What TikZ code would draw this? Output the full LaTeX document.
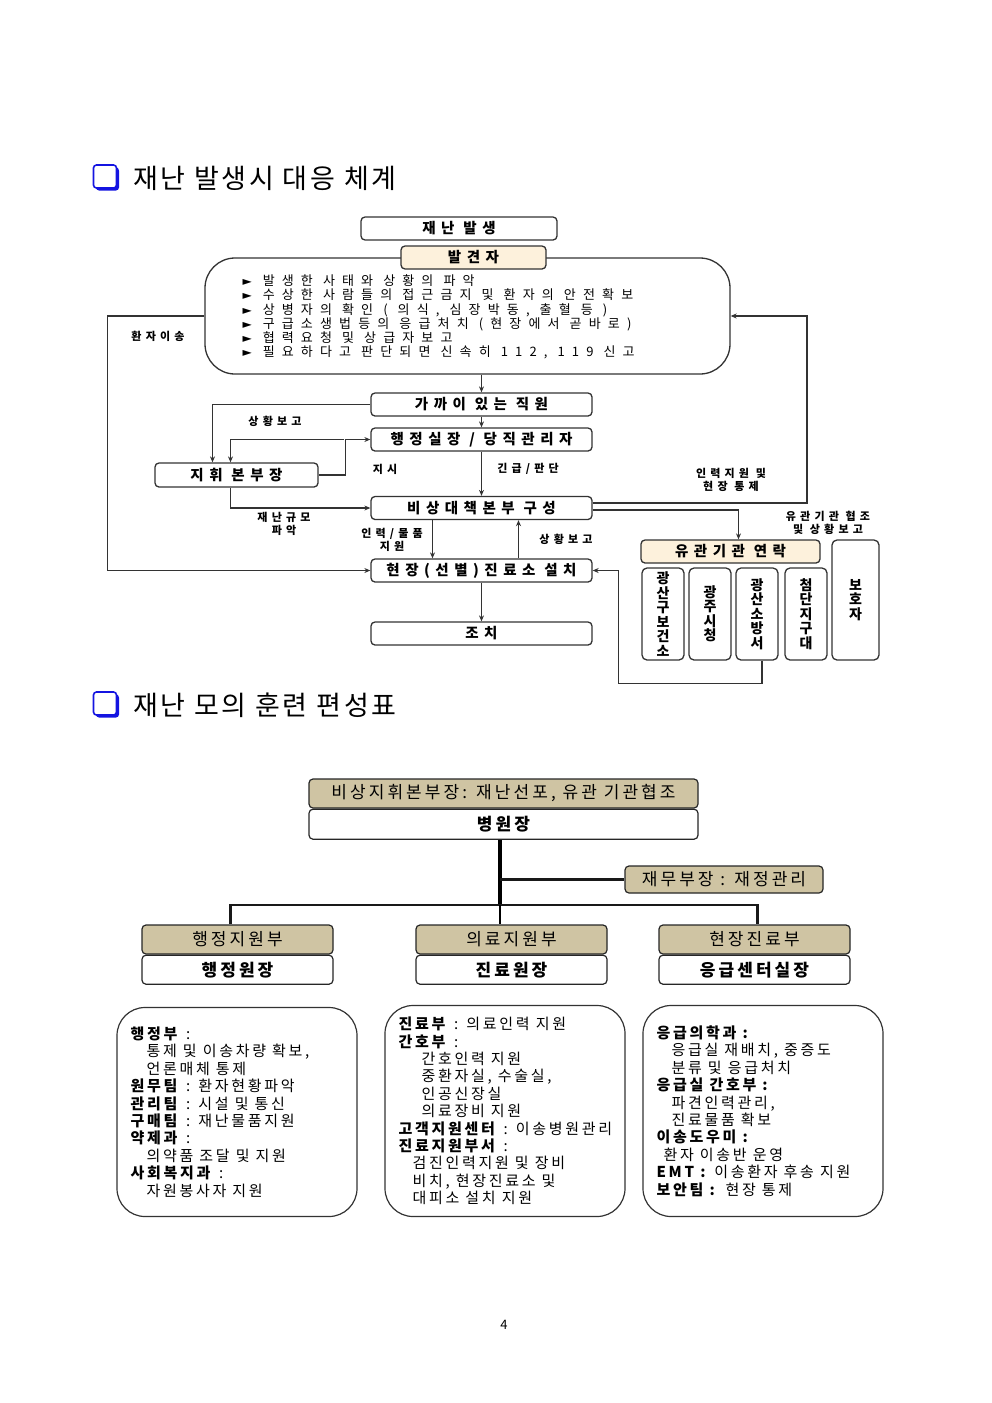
\documentclass[tikz,border=0pt]{standalone}
\usepackage{fontspec}
\setmainfont{Noto Sans CJK KR}
\newfontfamily\flowfont[LetterSpace=38]{Noto Sans CJK KR}
\newfontfamily\dutyfont[LetterSpace=55]{Noto Sans CJK KR}
\newfontfamily\orgfont[LetterSpace=18]{Noto Sans CJK KR}
\newfontfamily\listfont[LetterSpace=18]{Noto Sans CJK KR}
\newfontfamily\titlefont[LetterSpace=10]{Noto Sans CJK KR}
\newfontfamily\tipfont{DejaVu Sans}
\usepackage{tikz}
\usetikzlibrary{
  arrows.meta,
  positioning,
  shadows
}
\usepackage{xcolor}
\definecolor{cream}{RGB}{253,241,220}
\definecolor{khaki}{RGB}{207,196,163}
\definecolor{chkblue}{RGB}{20,20,225}
\newcommand{\bul}{{\tipfont\fontsize{12}{12}\selectfont ►}\hspace{11pt}}

\begin{document}
\begin{tikzpicture}[
  x=1pt, y=-1pt,
  fbox/.style={draw=black!80, line width=1.3pt, rounded corners=4pt, fill=#1, minimum width=221pt, minimum height=23pt, inner sep=0pt, font=\flowfont\bfseries\fontsize{14.5}{16}\selectfont},
  fbox/.default=white,
  vbox/.style={draw=black!80, line width=1.3pt, rounded corners=5pt, fill=white, minimum width=42pt, minimum height=92pt, inner sep=0pt, align=center, font=\flowfont\bfseries\fontsize{14}{14.5}\selectfont},
  flow/.style={-{Stealth[length=6pt, width=5pt]}, line width=1.2pt, draw=black!80},
  lbl/.style={font=\flowfont\bfseries\fontsize{11}{12.5}\selectfont, align=center, inner sep=1pt},
  obox/.style={draw=black!85, line width=1.2pt, rounded corners=4pt, fill=#1, inner sep=0pt, font=\orgfont\fontsize{17}{19}\selectfont},
  obox/.default=white,
  orgline/.style={line width=2.4pt, draw=black!90},
  listbox/.style={draw=black!80, line width=1.2pt, rounded corners=28pt, minimum width=240pt, minimum height=209pt},
  listtext/.style={anchor=west, align=left, inner sep=0pt, font=\listfont\fontsize{15}{17.4}\selectfont},
  chk/.style={draw=chkblue, line width=1.6pt, fill=white, rounded corners=3pt, minimum size=23pt, inner sep=0pt, drop shadow={shadow xshift=2.5pt, shadow yshift=-2.5pt, fill=chkblue, opacity=1}},
  title/.style={anchor=west, inner sep=0pt, font=\titlefont\fontsize{27}{30}\selectfont}
]
  \useasboundingbox (0,0) rectangle (992,1403);

  % Section 1: response system
  \node[chk] (chk1) at (105,176.5) {};
  \node[title] (title1) at (133,178) {재난 발생시 대응 체계};

  \node[fbox, minimum width=196pt] (disaster) at (459,228.5) {재난 발생};
  \node[draw=black!80, line width=1.3pt, rounded corners=30pt, minimum width=525pt, minimum height=116pt] (finderbox) at (467.5,316) {};
  \node[fbox=cream, minimum width=145pt] (finder) at (473.5,257.5) {발견자};
  \node[anchor=west, align=left, inner sep=0pt, font=\dutyfont\fontsize{13}{14.2}\selectfont] (duties) at ([xshift=38pt, yshift=-1pt]finderbox.west) {%
    \bul 발생한 사태와 상황의 파악\\
    \bul 수상한 사람들의 접근금지 및 환자의 안전확보\\
    \bul 상병자의 확인 ( 의식, 심장박동, 출혈 등 )\\
    \bul 구급소생법등의 응급처치 (현장에서 곧바로)\\
    \bul 협력요청 및 상급자보고\\
    \bul 필요하다고 판단되면 신속히 112, 119 신고};

  \node[fbox] (staff) at (481.5,404.5) {가까이 있는 직원};
  \node[fbox] (duty) at (481.5,439.5) {행정실장 / 당직관리자};
  \node[fbox, minimum width=163pt, minimum height=24pt] (chief) at (236.5,475) {지휘 본부장};
  \node[fbox] (hq) at (481.5,508) {비상대책본부 구성};
  \node[fbox] (site) at (481.5,570.5) {현장(선별)진료소 설치};
  \node[fbox] (action) at (481.5,633.5) {조치};

  % Related agencies
  \node[fbox=cream, minimum width=179pt] (liaison) at (730.5,551.5) {유관기관 연락};
  \node[vbox] (health) at (663,614) {광\\산\\구\\보\\건\\소};
  \node[vbox] (city) at (710,614) {광\\주\\시\\청};
  \node[vbox] (fire) at (757,614) {광\\산\\소\\방\\서};
  \node[vbox] (police) at (806,614) {첨\\단\\지\\구\\대};
  \node[vbox, minimum width=47pt, minimum height=120pt] (guardian) at (855.5,600) {보\\호\\자};

  % Arrows
  \draw[flow] (finderbox.south -| staff.north) -- (staff.north);
  \draw[flow] (staff) -- (duty);
  \draw[flow] (duty) -- (hq);
  \draw[flow] (site) -- (action);
  \draw[flow] (staff.west) -| ([xshift=-24pt]chief.north);
  \draw[flow] (chief.east) -- ++(27,0) |- (duty.west);
  \draw[flow] ([xshift=-26pt]duty.west) -| ([xshift=-6pt]chief.north);
  \draw[flow] ([xshift=-6pt]chief.south) |- (hq.west);
  \draw[flow] ([xshift=-49pt]hq.south) -- ([xshift=-49pt]site.north);
  \draw[flow] ([xshift=37pt]site.north) -- ([xshift=37pt]hq.south);
  \draw[flow] (finderbox.west) -- ++(-97,0) |- (site.west);
  \coordinate (rturn) at (807,316);
  \draw[flow] ([yshift=5pt]hq.east) -| (rturn) -- (finderbox.east);
  \draw[flow] ([yshift=-2pt]hq.east) -| ([xshift=8pt]liaison.north);
  \draw[flow] ([xshift=5pt]fire.south) -- ++(0,23) -| ([xshift=26pt]site.east) -- (site.east);

  % Labels
  \node[lbl] (lmove) at (158,336) {환자이송};
  \node[lbl] (lreport1) at (275,421) {상황보고};
  \node[lbl] (lorder) at (385,469) {지시};
  \node[lbl] (ljudge) at (528,469) {긴급/판단};
  \node[lbl] (lscale) at (284,524) {재난규모\\파악};
  \node[lbl] (lsupply) at (392,540) {인력/물품\\지원};
  \node[lbl] (lreport2) at (566,539) {상황보고};
  \node[lbl] (lcontrol) at (731,480) {인력지원 및\\현장 통제};
  \node[lbl] (lcoop) at (828,523) {유관기관 협조\\및 상황보고};

  % Section 2: drill organisation
  \node[chk] (chk2) at (105,703.5) {};
  \node[title] (title2) at (133,705) {재난 모의 훈련 편성표};

  \node[obox=khaki, minimum width=389pt, minimum height=29pt] (command) at (503.5,793.5) {비상지휘본부장: 재난선포, 유관 기관협조};
  \node[obox, minimum width=389pt, minimum height=30pt, below=0pt of command] (director) {\bfseries 병원장};
  \node[obox=khaki, minimum width=198pt, minimum height=27pt] (finance) at (724,879.5) {재무부장 : 재정관리};

  \node[obox=khaki, minimum width=191pt, minimum height=29pt] (admin) at (237.5,939.5) {행정지원부};
  \node[obox, minimum width=191pt, minimum height=29pt, below=0pt of admin] (adminhead) {\bfseries 행정원장};
  \node[obox=khaki, minimum width=191pt, minimum height=29pt] (medical) at (511.5,939.5) {의료지원부};
  \node[obox, minimum width=191pt, minimum height=29pt, below=0pt of medical] (medicalhead) {\bfseries 진료원장};
  \node[obox=khaki, minimum width=191pt, minimum height=29pt] (field) at (754.5,939.5) {현장진료부};
  \node[obox, minimum width=191pt, minimum height=29pt, below=0pt of field] (fieldhead) {\bfseries 응급센터실장};

  \coordinate (hub) at (500,905);
  \draw[line width=3.2pt] (director.south -| hub) -- (hub);
  \draw[orgline] (finance.west -| hub) -- (finance.west);
  \draw[orgline] ([xshift=-7pt]admin.north) |- (hub) -| ([xshift=3pt]field.north);
  \draw[line width=1.6pt] (hub) -- (hub |- medical.north);

  % Task lists
  \node[listbox] (adminbox) at (237,1112) {};
  \node[listtext] (admintext) at ([xshift=14pt]adminbox.west) {%
    \textbf{행정부} :\\
    \hspace*{16pt}통제 및 이송차량 확보,\\
    \hspace*{16pt}언론매체 통제\\
    \textbf{원무팀} : 환자현황파악\\
    \textbf{관리팀} : 시설 및 통신\\
    \textbf{구매팀} : 재난물품지원\\
    \textbf{약제과} :\\
    \hspace*{16pt}의약품 조달 및 지원\\
    \textbf{사회복지과} :\\
    \hspace*{16pt}자원봉사자 지원};

  \node[listbox, minimum height=211pt] (medicalbox) at (505,1111) {};
  \node[listtext] (medicaltext) at ([xshift=14pt]medicalbox.west) {%
    \textbf{진료부} : 의료인력 지원\\
    \textbf{간호부} :\\
    \hspace*{23pt}간호인력 지원\\
    \hspace*{23pt}중환자실, 수술실,\\
    \hspace*{23pt}인공신장실\\
    \hspace*{23pt}의료장비 지원\\
    \textbf{고객지원센터} : 이송병원관리\\
    \textbf{진료지원부서} :\\
    \hspace*{14pt}검진인력지원 및 장비\\
    \hspace*{14pt}비치, 현장진료소 및\\
    \hspace*{14pt}대피소 설치 지원};

  \node[listbox, minimum height=211pt] (fieldbox) at (763,1111) {};
  \node[listtext] (fieldtext) at ([xshift=14pt]fieldbox.west) {%
    \textbf{응급의학과 :}\\
    \hspace*{15pt}응급실 재배치, 중증도\\
    \hspace*{15pt}분류 및 응급처치\\
    \textbf{응급실 간호부 :}\\
    \hspace*{15pt}파견인력관리,\\
    \hspace*{15pt}진료물품 확보\\
    \textbf{이송도우미 :}\\
    \hspace*{7pt}환자 이송반 운영\\
    \textbf{EMT :} 이송환자 후송 지원\\
    \textbf{보안팀 :} 현장 통제};

  \node[font=\fontsize{13}{15}\selectfont] (pageno) at (504,1325) {4};
\end{tikzpicture}
\end{document}
